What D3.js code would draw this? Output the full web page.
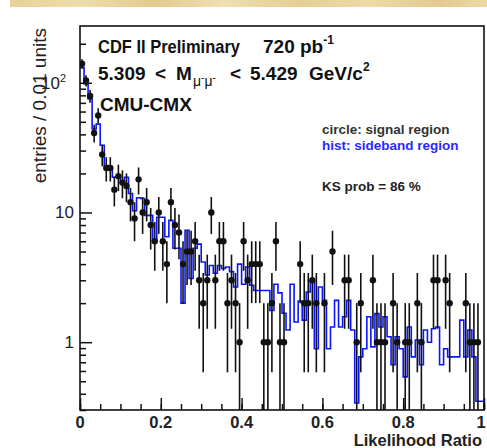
<!DOCTYPE html>
<html><head><meta charset="utf-8">
<script src="https://cdn.jsdelivr.net/npm/d3@7"></script>
<style>body{margin:0;background:#fff}svg{display:block}text{font-family:"Liberation Sans",Arial,sans-serif}</style>
</head><body><svg id="c" width="487" height="448"></svg>
<script>
// ---- data (100 bins of width 0.01) ----
const binWidth = 0.01;
const signalCounts = [
 140,104,79,41,56,28,22,22,15,19,
 17,16,12,9,18,10,12,8,6,10,
 6,4,12,8,7,4,5,5,6,3,
 2,3,10,3,6,6,2,3,2,1,
 6,3,4,4,4,1,1,2,6,1,
 1,0,0,0,4,2,2,3,2,0,
 2,0,5,0,0,3,3,0,1,2,
 0,0,3,1,1,1,0,2,1,0,
 1,1,0,2,1,0,0,3,3,0,
 3,2,0,0,0,2,1,1,1,0];
const sidebandValues = [
 131,98,75,44,48,33,23,22,18.7,18.7,
 17,18.7,14,10.3,13,12.8,9.5,9.5,6,9.2,
 9.2,6.5,8.7,5.3,5.3,2.0,7.3,3.1,5.3,5.7,
 4.15,3.3,3.9,3.4,3.9,3.7,3.8,3.5,2.66,4,
 2.8,3.8,2.75,2.5,2.5,2.5,2.5,1.76,2.8,2.4,
 1.67,1.24,2.8,1.43,2.08,1.48,2.44,3.0,0.89,2.66,
 2.1,0.89,1.31,2.1,1.31,1.57,2.1,1.24,0.34,0.77,
 0.89,1.57,0.92,1.66,1.31,1.57,1.1,0.67,1.1,0.89,
 0.54,1.31,0.77,1.04,0.67,1.24,1.0,1.27,1.31,0.67,
 0.89,0.77,0.77,0.77,1.48,0.77,1.24,0.77,0.35,0.35];
const xTickValues = [0,0.2,0.4,0.6,0.8,1];
const xTickLabels = ["0","0.2","0.4","0.6","0.8","1"];
const yTickValues = [1,10,100];
const yTickLabels = [["1",""],["10",""],["10","2"]];

// ---- layout ----
const svg = d3.select("#c");
const x = d3.scaleLinear().domain([0,1]).range([80,484]);
const y = d3.scaleLog().domain([0.3, 274]).range([410, 26]);

// top textured band
const defs = svg.append("defs");
const g1 = defs.append("linearGradient").attr("id","band");
[["0%","#e6d199"],["15%","#efdcab"],["30%","#e2c98e"],["45%","#f0dfb2"],["60%","#e5cd95"],["75%","#eedaa8"],["90%","#e3c990"],["100%","#ecd8a5"]]
  .forEach(s=>g1.append("stop").attr("offset",s[0]).attr("stop-color",s[1]));
svg.append("rect").attr("x",10).attr("y",0).attr("width",477).attr("height",7).attr("fill","url(#band)");

defs.append("clipPath").attr("id","plot").append("rect")
  .attr("x",80).attr("y",26).attr("width",404).attr("height",384);

const plot = svg.append("g").attr("clip-path","url(#plot)");

// sideband histogram (step line)
const stepPts = [];
sidebandValues.forEach((v,i)=>{
  const yy = y(Math.max(v,0.3));
  stepPts.push([x(i*binWidth), yy]);
  stepPts.push([x((i+1)*binWidth), yy]);
});
stepPts.push([x(1), y(0.3)]);
plot.append("path").attr("d", d3.line()(stepPts))
  .attr("fill","none").attr("stroke","#0a14ff").attr("stroke-width",1.6);

// signal points with sqrt(N) error bars
const pts = signalCounts.map((n,i)=>({n, c:(i+0.5)*binWidth})).filter(d=>d.n>0);
plot.selectAll("line.err").data(pts).join("line").attr("class","err")
  .attr("x1",d=>x(d.c)).attr("x2",d=>x(d.c))
  .attr("y1",d=>y(Math.max(d.n-Math.sqrt(d.n),0.2)))
  .attr("y2",d=>y(d.n+Math.sqrt(d.n)))
  .attr("stroke","#111").attr("stroke-width",1.6);
plot.selectAll("circle.pt").data(pts).join("circle").attr("class","pt")
  .attr("cx",d=>x(d.c)).attr("cy",d=>y(d.n)).attr("r",3.2).attr("fill","#111");

// axes (ROOT style, ticks inside)
const xMinor = d3.range(0,1.0001,0.05);
const xAxisMinor = d3.axisBottom(x).tickValues(xMinor).tickSize(-6).tickFormat("");
const xAxisMajor = d3.axisBottom(x).tickValues(xTickValues).tickSize(-12).tickFormat("");
const yMinor = [];
[0.1,1,10,100].forEach(d=>{for(let k=2;k<=9;k++){const v=d*k; if(v>=0.3&&v<=274) yMinor.push(v);}});
const yAxisMinor = d3.axisLeft(y).tickValues(yMinor).tickSize(-6).tickFormat("");
const yAxisMajor = d3.axisLeft(y).tickValues(yTickValues).tickSize(-12).tickFormat("");

[xAxisMinor,xAxisMajor].forEach(a=>{
  const g = svg.append("g").attr("transform","translate(0,410)").call(a);
  g.select(".domain").remove();
  g.selectAll("line").attr("stroke","#111").attr("stroke-width",1.5);
});
[yAxisMinor,yAxisMajor].forEach(a=>{
  const g = svg.append("g").attr("transform","translate(80,0)").call(a);
  g.select(".domain").remove();
  g.selectAll("line").attr("stroke","#111").attr("stroke-width",1.5);
});

// frame
svg.append("rect").attr("x",80).attr("y",26).attr("width",404).attr("height",384)
  .attr("fill","none").attr("stroke","#111").attr("stroke-width",1.6);

// tick labels
svg.append("g").selectAll("text").data(xTickValues).join("text")
  .attr("x",d=>Math.min(x(d),481)).attr("y",428).attr("text-anchor","middle")
  .attr("font-size",16.5).attr("font-weight","bold").attr("fill","#222")
  .text((d,i)=>xTickLabels[i]);
const yl = svg.append("g").selectAll("text").data(yTickValues).join("text")
  .attr("x",d=>d===100?66:74).attr("y",d=>y(d)+6).attr("text-anchor","end")
  .attr("font-size",17).attr("fill","#222");
yl.append("tspan").text((d,i)=>yTickLabels[i][0]);
yl.append("tspan").attr("dy",-7).attr("font-size",11).text((d,i)=>yTickLabels[i][1]);

// axis titles
svg.append("text").attr("x",482).attr("y",446).attr("text-anchor","end")
  .attr("font-size",16.5).attr("font-weight","bold").attr("fill","#222").text("Likelihood Ratio");
svg.append("text").attr("transform","translate(46,28) rotate(-90)").attr("text-anchor","end")
  .attr("font-size",19).attr("fill","#222").text("entries / 0.01 units");

// annotations
const T = {fs:19};
const t1 = svg.append("g").attr("font-size",T.fs).attr("font-weight","bold").attr("fill","#111");
t1.append("text").attr("x",98).attr("y",53).attr("textLength",142).attr("lengthAdjust","spacingAndGlyphs").text("CDF II Preliminary");
const pb = t1.append("text").attr("x",263).attr("y",53);
pb.append("tspan").text("720 pb");
pb.append("tspan").attr("dy",-9).attr("font-size",12).text("-1");

const l2 = svg.append("g").attr("font-size",T.fs).attr("font-weight","bold").attr("fill","#111");
l2.append("text").attr("x",98).attr("y",80).text("5.309");
l2.append("text").attr("x",155).attr("y",80).text("<");
l2.append("text").attr("x",176).attr("y",80).text("M");
const sub = l2.append("text").attr("x",193).attr("y",86).attr("font-size",14).attr("font-weight","normal");
sub.append("tspan").text("μ");
sub.append("tspan").attr("dy",-5).attr("font-size",10).text("-");
sub.append("tspan").attr("dy",5).text("μ");
sub.append("tspan").attr("dy",-5).attr("font-size",10).text("-");
l2.append("text").attr("x",230).attr("y",80).text("<");
l2.append("text").attr("x",250).attr("y",80).text("5.429");
const gev = l2.append("text").attr("x",309).attr("y",80);
gev.append("tspan").text("GeV/c");
gev.append("tspan").attr("dy",-9).attr("font-size",12).text("2");

svg.append("text").attr("x",100).attr("y",111).attr("font-size",T.fs).attr("font-weight","bold").attr("fill","#111").text("CMU-CMX");

svg.append("text").attr("x",322).attr("y",134).attr("font-size",13.5).attr("font-weight","bold").attr("fill","#333").text("circle: signal region");
svg.append("text").attr("x",322).attr("y",150).attr("font-size",13.5).attr("font-weight","bold").attr("fill","#2a2aff").text("hist: sideband region");
svg.append("text").attr("x",322).attr("y",191).attr("font-size",13.5).attr("font-weight","bold").attr("fill","#222").text("KS prob = 86 %");
</script></body></html>
